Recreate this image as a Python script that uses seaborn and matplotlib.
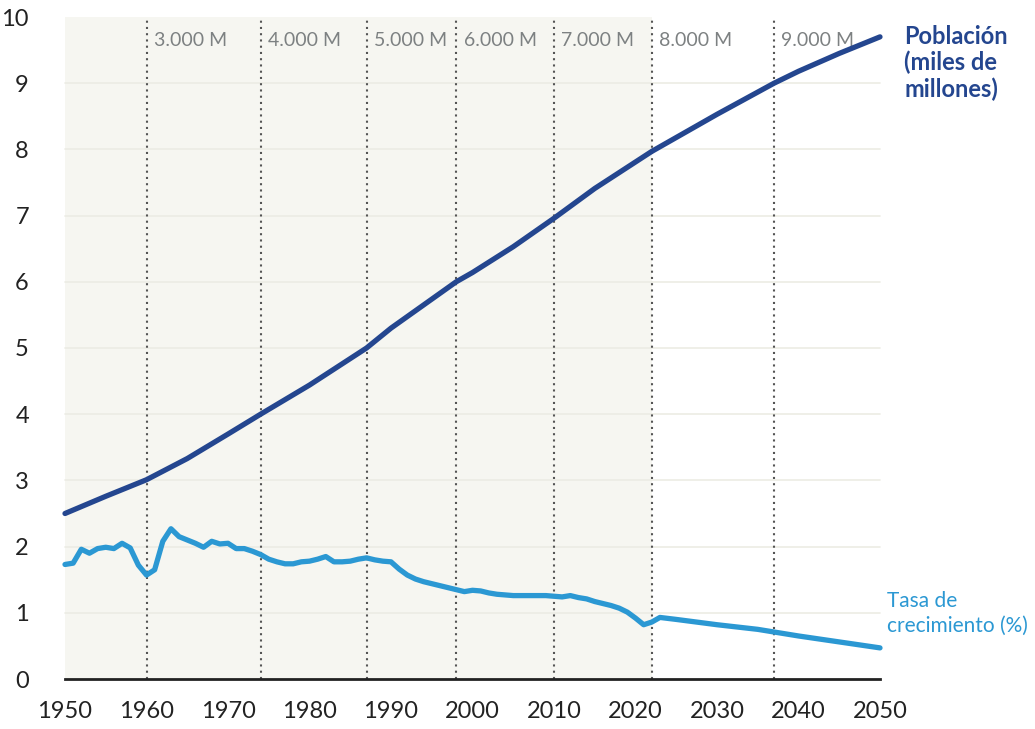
import matplotlib
matplotlib.use("Agg")
import matplotlib.pyplot as plt
import seaborn as sns
import pandas as pd

# ---- data ----
pop_years = [1950, 1955, 1960, 1965, 1970, 1974, 1980, 1987, 1990, 1998, 2000,
             2005, 2010, 2015, 2022, 2025, 2030, 2037, 2040, 2045, 2050]
pop_values = [2.50, 2.76, 3.01, 3.33, 3.70, 4.00, 4.44, 5.00, 5.30, 6.00, 6.14,
              6.53, 6.96, 7.41, 7.97, 8.18, 8.53, 9.00, 9.18, 9.45, 9.70]

growth_years = list(range(1950, 2024)) + [2025, 2030, 2035, 2040, 2045, 2050]
growth_values = [1.73, 1.75, 1.96, 1.90, 1.97, 1.99, 1.97, 2.05, 1.98, 1.72,
                 1.57, 1.65, 2.08, 2.27, 2.15, 2.10, 2.05, 1.99, 2.08, 2.04,
                 2.05, 1.97, 1.97, 1.93, 1.88, 1.81, 1.77, 1.74, 1.74, 1.77,
                 1.78, 1.81, 1.85, 1.77, 1.77, 1.78, 1.81, 1.83, 1.80, 1.78,
                 1.77, 1.66, 1.57, 1.51, 1.47, 1.44, 1.41, 1.38, 1.35, 1.32,
                 1.34, 1.33, 1.30, 1.28, 1.27, 1.26, 1.26, 1.26, 1.26, 1.26,
                 1.25, 1.24, 1.26, 1.23, 1.21, 1.17, 1.14, 1.11, 1.07, 1.01,
                 0.92, 0.82, 0.86, 0.93,
                 0.90, 0.82, 0.75, 0.65, 0.56, 0.47]

milestone_years = [1960, 1974, 1987, 1998, 2010, 2022, 2037]
milestone_labels = ["3.000 M", "4.000 M", "5.000 M", "6.000 M", "7.000 M",
                    "8.000 M", "9.000 M"]

x_ticks = list(range(1950, 2051, 10))
y_ticks = list(range(0, 11))

pop_label = "Población\n(miles de\nmillones)"
growth_label = "Tasa de\ncrecimiento (%)"

# ---- style ----
sns.set_style("white")
plt.rcParams['font.family'] = ['Lato', 'DejaVu Sans']

POP_COLOR = "#24468f"
GROWTH_COLOR = "#2b98d3"
SHADE = "#f6f6f1"

fig = plt.figure(figsize=(10.35, 7.29), dpi=100)
ax = fig.add_axes([65 / 1035, 50 / 729, 815 / 1035, 662 / 729])

ax.set_xlim(1950, 2050)
ax.set_ylim(0, 10)

ax.axvspan(1950, 2022, color=SHADE, zorder=0, lw=0)
for yv in y_ticks[1:-1]:
    ax.axhline(yv, color="#ecece4", lw=1.2, zorder=1)

for yr, lab in zip(milestone_years, milestone_labels):
    ax.axvline(yr, color="#555555", lw=1.5, ls=(0, (1, 2)), zorder=2)
    ax.text(yr + 0.9, 9.64, lab, color="#7d8182", fontsize=14,
            ha="left", va="center", zorder=3)

df_pop = pd.DataFrame({"year": pop_years, "value": pop_values})
df_gr = pd.DataFrame({"year": growth_years, "value": growth_values})

sns.lineplot(data=df_pop, x="year", y="value", ax=ax, color=POP_COLOR,
             linewidth=3.8, zorder=4, solid_capstyle="round")
sns.lineplot(data=df_gr, x="year", y="value", ax=ax, color=GROWTH_COLOR,
             linewidth=3.8, zorder=4, solid_capstyle="round")
for l in ax.lines:
    l.set_clip_on(False)

ax.text(2053, 9.88, pop_label, color=POP_COLOR, fontsize=17,
        fontweight="bold", ha="left", va="top", linespacing=1.15)
ax.text(2050.9, 1.33, growth_label, color=GROWTH_COLOR, fontsize=15,
        ha="left", va="top", linespacing=1.3)

ax.set_xticks(x_ticks)
ax.set_xticklabels([str(t) for t in x_ticks])
ax.set_yticks(y_ticks)
ax.set_yticklabels([str(t) for t in y_ticks])
ax.tick_params(axis="x", direction="out", length=7, width=2, color="#222222",
               labelsize=17, pad=9, labelcolor="#222222")
ax.tick_params(axis="y", length=0, labelsize=17, pad=26, labelcolor="#222222")

for s in ["top", "right", "left"]:
    ax.spines[s].set_visible(False)
ax.spines["bottom"].set_color("#222222")
ax.spines["bottom"].set_linewidth(2)
ax.set_xlabel("")
ax.set_ylabel("")
ax.grid(False)

fig.savefig("out.png", dpi=100)
